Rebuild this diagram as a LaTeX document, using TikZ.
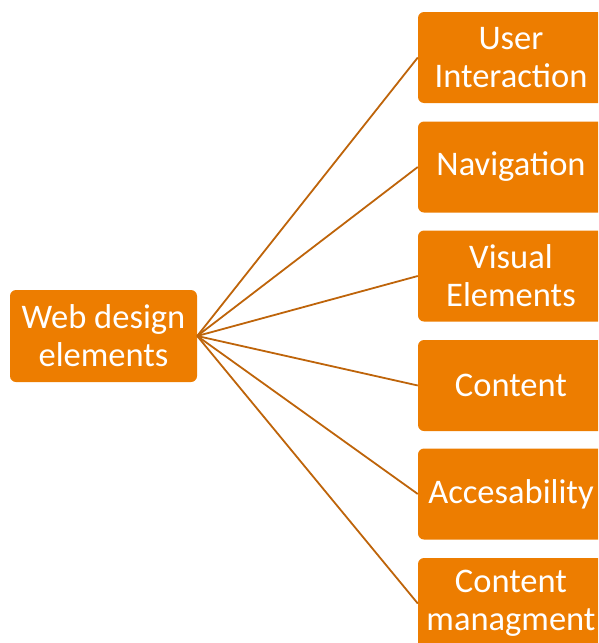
\documentclass[tikz,border=0pt]{standalone}
\usepackage{fontspec}
\setmainfont{Carlito}
\definecolor{boxfill}{RGB}{237,125,0}
\definecolor{linecol}{RGB}{190,100,10}
\begin{document}
\begin{tikzpicture}[x=1pt,y=-1pt,
  box/.style={fill=boxfill, rounded corners=6pt, text=white, align=center,
    font=\fontsize{34.5}{38}\selectfont, inner sep=0pt},
  conn/.style={draw=linecol, line width=1.8pt}]
\useasboundingbox (0,0) rectangle (598,643);
\begin{scope}
\clip (0,0) rectangle (598,643);
\node[box, minimum width=187pt, minimum height=92pt] (root) at (103.5,336) {Web design\\elements};
\node[box, minimum width=186pt, minimum height=91pt] (c1) at (511,57.5) {User\\Interaction};
\node[box, minimum width=186pt, minimum height=91pt] (c2) at (511,167) {Navigation};
\node[box, minimum width=186pt, minimum height=91pt] (c3) at (511,276) {Visual\\Elements};
\node[box, minimum width=186pt, minimum height=91pt] (c4) at (511,385.5) {Content};
\node[box, minimum width=186pt, minimum height=91pt] (c5) at (511,494) {Accesability};
\node[box, minimum width=186pt, minimum height=91pt] (c6) at (511,603.5) {Content\\managment};
\foreach \i in {1,...,6} \draw[conn] (root.east) -- (c\i.west);
\end{scope}
\end{tikzpicture}
\end{document}
